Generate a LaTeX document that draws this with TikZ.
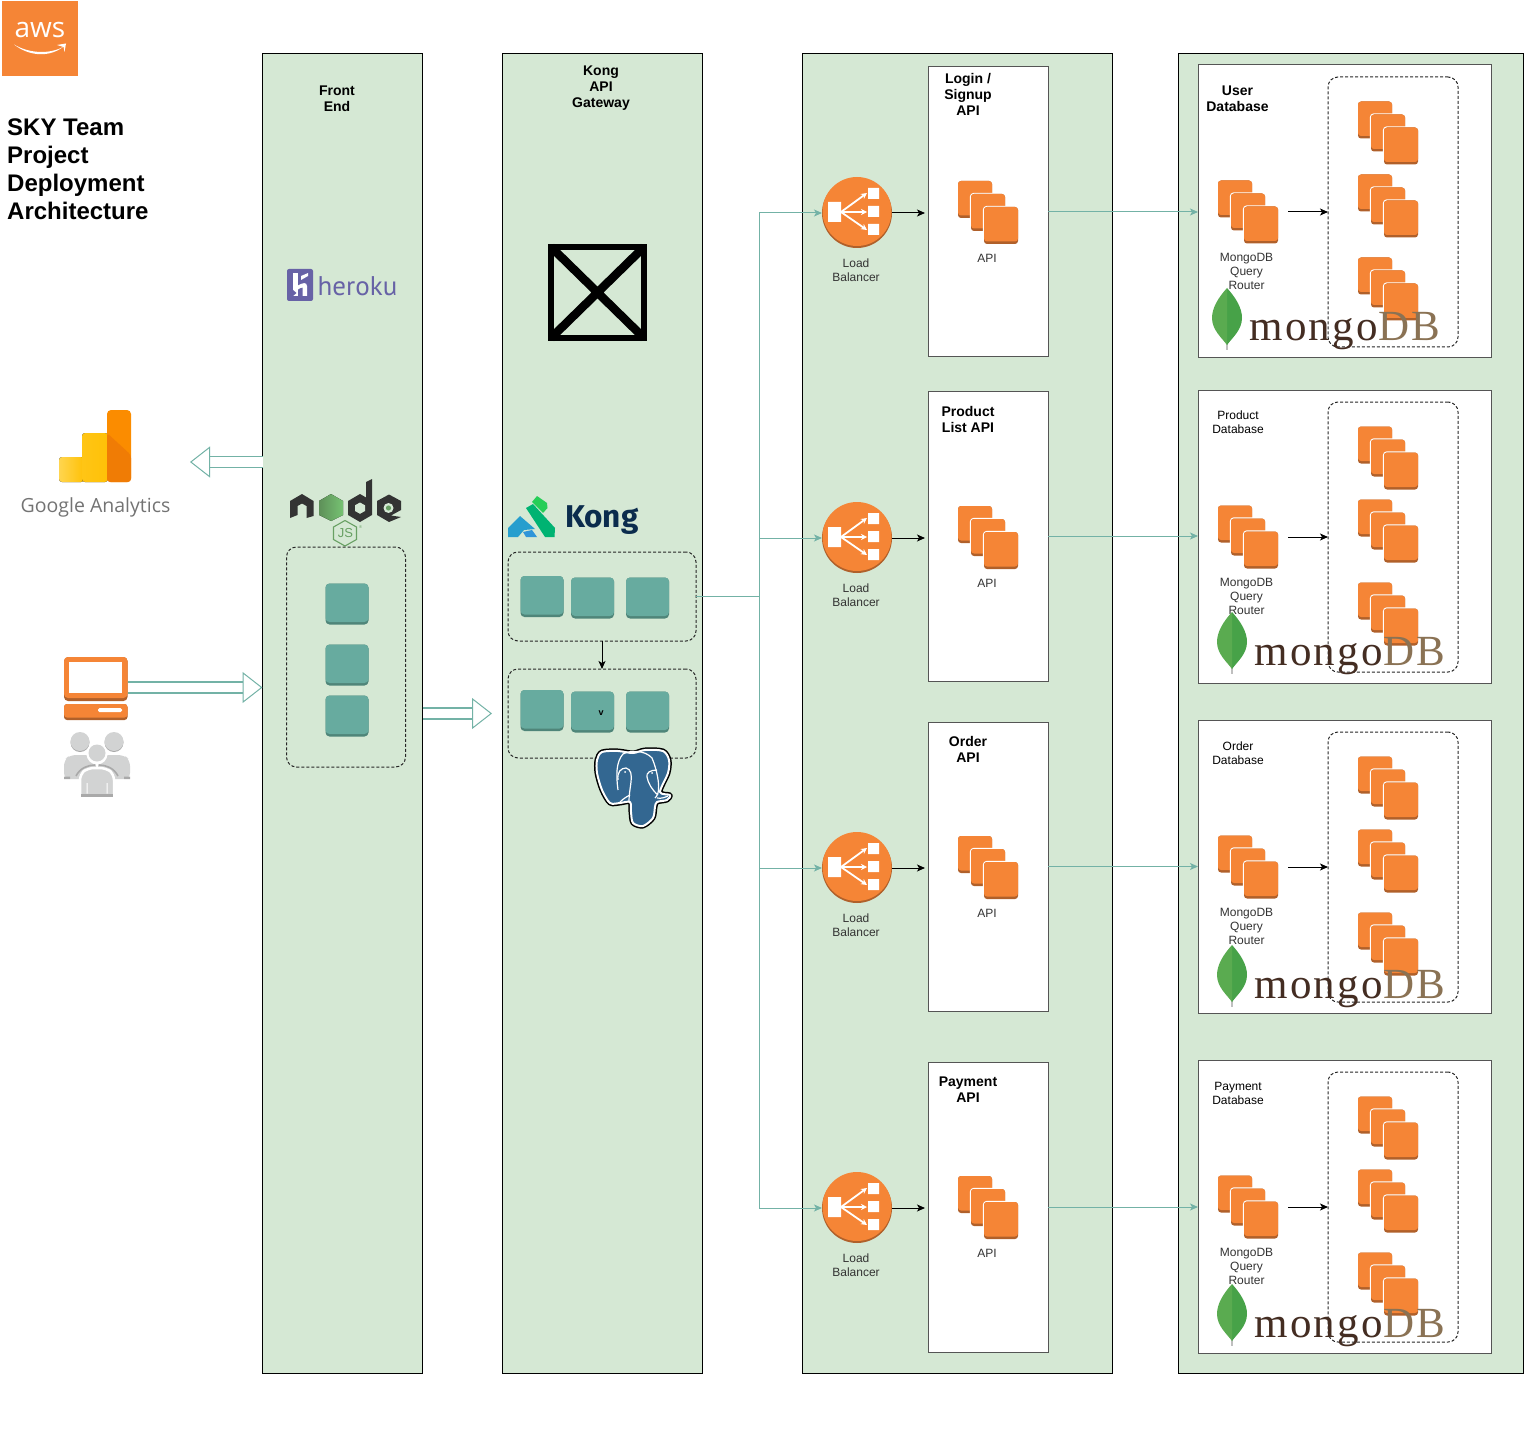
\documentclass[tikz,border=0pt]{standalone}
\usepackage{fontspec}
\setmainfont{Liberation Sans}
\newfontfamily\mongofont[LetterSpace=5.6]{Liberation Serif}
\newfontfamily\kongfont{Fira Sans}
\newfontfamily\herokufont{PT Sans}
\newfontfamily\gafont{Open Sans}
\usetikzlibrary{arrows.meta,calc}
\definecolor{panelgreen}{HTML}{D5E8D4}
\definecolor{awsorange}{HTML}{F58536}
\definecolor{awsdark}{HTML}{B0602A}
\definecolor{tealbox}{HTML}{67AB9F}
\definecolor{tealdark}{HTML}{4F8579}
\definecolor{tealline}{HTML}{73B2A6}
\definecolor{boxgrey}{HTML}{555555}
\definecolor{labelgrey}{HTML}{333333}
\definecolor{herokup}{HTML}{6762A6}
\definecolor{mongodark}{HTML}{442D22}
\definecolor{mongolight}{HTML}{8A7254}
\definecolor{kongnavy}{HTML}{0B2C4D}
\definecolor{pgblue}{HTML}{336791}
\definecolor{usergrey}{HTML}{D2D3D3}
\definecolor{userdark}{HTML}{A9A9A9}
\definecolor{nodedark}{HTML}{333333}
\definecolor{nodegreen}{HTML}{68A063}
\definecolor{gaA}{HTML}{FFD54F}
\definecolor{gaB}{HTML}{FFC107}
\definecolor{gaC}{HTML}{FB8C00}
\definecolor{gaD}{HTML}{F07C05}
\definecolor{leafL}{HTML}{5AAB50}
\definecolor{leafR}{HTML}{47A248}
\tikzset{
  panel/.style={draw=black,line width=1pt,fill=panelgreen,outer sep=0pt},
  apibox/.style={draw=boxgrey,line width=1pt,fill=white,outer sep=0pt},
  dashbox/.style={draw=black!85,line width=1pt,dash pattern=on 3pt off 2pt,rounded corners=10pt},
  iconbox/.style={inner sep=0pt,outer sep=0pt,draw=none,fill=none,rectangle},
  tline/.style={draw=tealline,line width=1pt},
  tarrow/.style={tline,-{Stealth[length=8pt,width=7pt,inset=2pt]}},
  barrow/.style={draw=black,line width=1pt,-{Stealth[length=8pt,width=7pt,inset=2pt]}},
  hollow/.style={draw=tealline,line width=1.2pt,double=white,double distance=9.8pt,
    -{Triangle[length=20pt,width=31pt,fill=white,line width=1pt]}},
  lbl/.style={inner sep=0pt,align=center,text=labelgrey,font=\fontsize{12}{14}\selectfont},
  ttl/.style={inner sep=0pt,align=center,text=black,font=\bfseries\fontsize{14}{16}\selectfont},
}
\newcommand\stackicon[3]{%
  \node[iconbox,minimum width=60pt,minimum height=63pt] (#1) at (#2+30,#3+31.5) {};
  \begin{scope}[shift={(#2,#3)}]
    \foreach \d in {0,13,26}{
      \fill[white,rounded corners=4pt] (\d-1.2,\d-1.2) rectangle (\d+34,\d+37);
      \fill[awsdark,rounded corners=3pt] (\d,\d) rectangle (\d+34,\d+37);
      \fill[awsorange,rounded corners=3pt] (\d,\d) rectangle (\d+34,\d+34.5);
    }
  \end{scope}}
\newcommand\lbicon[3]{%
  \node[iconbox,minimum width=70pt,minimum height=70pt] (#1) at (#2+35,#3+36) {};
  \begin{scope}[shift={(#2,#3)}]
    \fill[awsdark] (35,36) circle[radius=35];
    \fill[awsorange] (35,34.5) circle[radius=34.5];
    \fill[white] (6,25) rectangle (19,45) (46,11) rectangle (57,22) (46,29) rectangle (57,40) (46,47) rectangle (57,58);
    \draw[white,line width=1.8pt,-{Stealth[length=6pt,width=6pt]}] (19,35) -- (45,16);
    \draw[white,line width=1.8pt,-{Stealth[length=6pt,width=6pt]}] (19,35) -- (45,35);
    \draw[white,line width=1.8pt,-{Stealth[length=6pt,width=6pt]}] (19,35) -- (45,53);
  \end{scope}}
\newcommand\tealsq[3]{%
  \node[iconbox,minimum width=43pt,minimum height=41pt] (#1) at (#2+21.5,#3+20.5) {};
  \fill[tealdark,rounded corners=4pt] (#2,#3) rectangle (#2+43,#3+41);
  \fill[tealbox,rounded corners=4pt] (#2,#3) rectangle (#2+43,#3+38.5);}
\newcommand\mongologo[4]{% name, leaf x, leaf y, baseline y
  \begin{scope}[shift={(#2,#3)}]
    \fill[black!25] (14.3,52) rectangle (15.7,62);
    \fill[leafR] (15,0) .. controls (24,10) and (30,20) .. (30,30) .. controls (30,42) and (20,50) .. (15,57) -- cycle;
    \fill[leafL] (15,0) .. controls (6,10) and (0,20) .. (0,30) .. controls (0,42) and (10,50) .. (15,57) -- cycle;
  \end{scope}
  \node[inner sep=0pt,anchor=base west,font=\mongofont\fontsize{43}{43}\selectfont] (#1) at (#2+37,#4)
    {\textcolor{mongodark}{mongo}\textcolor{mongolight}{DB}};}
\newcommand\pgoutline{(597,760) (602,752) (618,751) (633,753) (645,750) (663,751) (669,760) (668,773) (660,792) (670,795) (667,800) (657,802) (655,807) (653,818) (643,826) (633,823) (631,812) (630,802) (620,803) (610,803) (602,790) (597,773)}
\begin{document}
\begin{tikzpicture}[x=1pt,y=-1pt]
\useasboundingbox (0,0) rectangle (1524,1431);
% panels
\node[panel,anchor=north west,minimum width=160pt,minimum height=1320pt,inner sep=0pt] (front) at (262.5,53.5) {};
\node[panel,anchor=north west,minimum width=200pt,minimum height=1320pt,inner sep=0pt] (kong) at (502.5,53.5) {};
\node[panel,anchor=north west,minimum width=310pt,minimum height=1320pt,inner sep=0pt] (svc) at (802.5,53.5) {};
\node[panel,anchor=north west,minimum width=345pt,minimum height=1320pt,inner sep=0pt] (dbp) at (1178.5,53.5) {};
% aws logo
\node[iconbox,fill=awsorange,minimum width=75.5pt,minimum height=75pt] (aws) at (40,38.5) {};
\node[inner sep=0pt,text=white,font=\gafont\fontsize{28}{28}\selectfont] (awst) at (40,30) {aws};
\fill[white] (14,44.5) .. controls (30,57) and (50,57) .. (63,47) .. controls (50,54) and (30,54) .. (14,44.5) -- cycle;
\fill[white] (57,45) -- (66,43.5) -- (64.5,52) -- (63.5,47) -- cycle;
% title
\node[inner sep=0pt,align=left,anchor=west,text=black,font=\bfseries\fontsize{24}{28}\selectfont] (title) at (7,169) {SKY Team\\Project\\Deployment\\Architecture};
\node[ttl] (frontt) at (337,99) {Front\\End};
\node[ttl] (kongt) at (601,88.5) {Kong\\API\\Gateway};
% heroku
\node[iconbox,fill=herokup,rounded corners=2pt,minimum width=26pt,minimum height=32pt] (herokui) at (300,285) {};
\fill[white] (293,273) rectangle (298,296);
\fill[white] (298,285.5) .. controls (302,283) and (307,281.5) .. (307,286) -- (307,296) -- (302.5,296) -- (302.5,287.5) .. controls (301,287.5) and (299,288.5) .. (298,289.5) -- cycle;
\fill[white] (301,276) -- (308,273) -- (308,276) -- (301,280) -- cycle;
\fill[herokup] (293,290) -- (296.5,293) -- (293,296) -- cycle;
\node[inner sep=0pt,anchor=base west,text=herokup,font=\herokufont\fontsize{27}{27}\selectfont] (herokut) at (317.5,296) {heroku};
% x image
\node[iconbox,draw=black,line width=6pt,minimum width=93pt,minimum height=91pt] (ximg) at (597.5,292.5) {};
\draw[black,line width=8.5pt] (ximg.north west) -- (ximg.south east) (ximg.north east) -- (ximg.south west);
% google analytics
\coordinate (gaL) at (190,462);
\fill[left color=gaA,right color=gaB,rounded corners=3pt] (59,482) -- (59,457) -- (84,457) -- (84,482) -- cycle;
\fill[left color=gaB!80!gaA,right color=gaB,rounded corners=3pt] (82,482) -- (82,433) -- (108,433) -- (108,482) -- cycle;
\fill[gaC,rounded corners=4pt] (107,482) -- (107,410) -- (131,410) -- (131,482) -- cycle;
\fill[gaD,rounded corners=3pt] (107,433) -- (131,455) -- (131,482) -- (107,482) -- cycle;
\node[inner sep=0pt,text=black!55,font=\gafont\fontsize{19.5}{20}\selectfont] (gat) at (95.5,507) {Google Analytics};
\draw[hollow] (front.west |- gaL) -- (gaL);
% computer
\node[iconbox,minimum width=63pt,minimum height=63pt] (pc) at (95.5,688.5) {};
\fill[awsdark,rounded corners=4pt] (64,657) rectangle (127.5,701);
\fill[awsorange,rounded corners=4pt] (64,657) rectangle (127.5,698);
\fill[white] (69,662) rectangle (122,693);
\fill[awsdark,rounded corners=3pt] (64,704) rectangle (127.5,720);
\fill[awsorange,rounded corners=3pt] (64,704) rectangle (127.5,717.5);
\fill[white,rounded corners=1.5pt] (98,708) rectangle (122,712);
\coordinate (pcout) at (128,687.5);
\draw[hollow] (pcout) -- (front.west |- pcout);
% users
\node[iconbox,minimum width=66pt,minimum height=64pt] (users) at (97,764) {};
\fill[userdark] (80,742.5) circle[radius=9.5] (114,742.5) circle[radius=9.5];
\fill[usergrey] (80,741.5) circle[radius=9.5] (114,741.5) circle[radius=9.5];
\fill[usergrey,rounded corners=6pt] (64,779) -- (64,760) -- (70,755) -- (90,755) -- (96,760) -- (96,779) -- cycle;
\fill[usergrey,rounded corners=6pt] (98,779) -- (98,760) -- (104,755) -- (124,755) -- (130,760) -- (130,779) -- cycle;
\fill[userdark] (64,776.5) rectangle (70,779) (124,776.5) rectangle (130,779);
\fill[white] (97,754) circle[radius=10.5];
\draw[userdark,line width=1.6pt] (76,776) .. controls (80,768) and (88,765) .. (95,765);
\draw[userdark,line width=1.6pt] (118,776) .. controls (114,768) and (106,765) .. (99,765);
\draw[white,line width=2.5pt,fill=usergrey,rounded corners=6pt] (80,798) -- (80,774) -- (88,768) -- (106,768) -- (114,774) -- (114,798);
\fill[white] (75,796.5) rectangle (120,800);
\fill[userdark] (81,793.5) rectangle (113,796.5);
\fill[usergrey] (97,753) circle[radius=8.5];
\fill[white] (86.5,783) rectangle (87.5,793.5) (106.5,783) rectangle (107.5,793.5);
% node logo
\fill[nodedark] (302,494) -- (313.5,501) -- (313.5,516) -- (306.5,518) -- (306.5,506) -- (302,503.5) -- (297.5,506) -- (297.5,515) -- (290,518) -- (290,501) -- cycle;
\fill[left color=nodegreen!90!black,right color=nodegreen!80!green!80!white] (331,494) -- (343,501) -- (343,515) -- (331,521) -- (319,515) -- (319,501) -- cycle;
\fill[nodedark] (372,479) -- (372,515) -- (360,522) -- (348,515) -- (348,501) -- (360,494) -- (366,497.5) -- (366,482) -- cycle;
\fill[panelgreen] (360,502.5) -- (365,505.3) -- (365,511) -- (360,513.8) -- (355,511) -- (355,505.3) -- cycle;
\fill[nodedark] (389,494.5) -- (401,501) -- (401,510) -- (391,515.5) -- (401,517) -- (389,522) -- (377,515) -- (377,501) -- cycle;
\fill[panelgreen] (388.5,508) circle[radius=5];
\fill[nodegreen] (388.5,508) circle[radius=2.6];
\node[iconbox,minimum width=24pt,minimum height=26pt] (js) at (345,533) {};
\draw[nodegreen,line width=1.1pt] (345,520.5) -- (356.5,527) -- (356.5,539.5) -- (345,546) -- (333.5,539.5) -- (333.5,527) -- cycle;
\node[inner sep=0pt,text=nodegreen,font=\fontsize{13}{13}\selectfont] (jst) at (345.5,533.5) {JS};
\node[inner sep=0pt,text=nodegreen,font=\fontsize{4}{4}\selectfont] (jsr) at (360.5,527) {®};
% front dashed
\node[iconbox,dashbox,minimum width=119pt,minimum height=220pt] (fd) at (346,657) {};
\tealsq{f1}{325.5}{583.5}
\tealsq{f2}{325.5}{644.5}
\tealsq{f3}{325.5}{695.5}
% arrow front to kong
\coordinate (kin) at (492,713.5);
\draw[hollow] (front.east |- kin) -- (kin);
% kong logo
\fill[green!55!teal!85!white] (532,502) -- (537,496) -- (547,503) -- (547.5,508) -- (543,513) -- cycle;
\fill[teal!70!green!85!cyan] (526,508) -- (533,504) -- (555,528) -- (554.5,537) -- (545,537) -- cycle;
\fill[cyan!65!teal] (508,528) -- (520,516) -- (535,529) -- (524,530) -- (518,537) -- (508,537) -- cycle;
\fill[cyan!70!blue!85!white] (523,532) -- (532,530) -- (537,537) -- (526,537) -- cycle;
\node[inner sep=0pt,anchor=base west,text=kongnavy,font=\kongfont\bfseries\fontsize{31.5}{31.5}\selectfont] (kongl) at (565,527) {Kong};
% kong dashed
\node[iconbox,dashbox,minimum width=188pt,minimum height=89pt] (k1) at (602,596.5) {};
\node[iconbox,dashbox,minimum width=188pt,minimum height=89pt] (k2) at (602,713.5) {};
\tealsq{ka}{520.5}{576}
\tealsq{kb}{571}{577.5}
\tealsq{kc}{626}{577.5}
\tealsq{kd}{520.5}{690}
\tealsq{ke}{571}{691.5}
\tealsq{kf}{626}{691.5}
\node[inner sep=0pt,text=black,font=\bfseries\fontsize{9}{9}\selectfont] (kv) at (601,713) {v};
\draw[barrow] (k1.south) -- (k2.north);
% elephant
\draw[black,line width=5pt,line join=round] plot[smooth cycle,tension=.5] coordinates {\pgoutline};
\draw[white,line width=2pt,fill=pgblue,line join=round] plot[smooth cycle,tension=.5] coordinates {\pgoutline};
\draw[white,line width=1.2pt] (618,790) .. controls (616,775) and (616,762) .. (623,754) .. controls (630,750) and (645,750) .. (652,758) .. controls (657,770) and (660,785) .. (658,793) .. controls (657,796) and (656,797) .. (655,798);
\draw[white,line width=1.2pt] (618,780) .. controls (617,772) and (621,768) .. (626,768) .. controls (631,769) and (632,775) .. (631,782) .. controls (630,790) and (629,795) .. (629,801);
\draw[white,line width=1.2pt] (647,777) .. controls (646,773) and (650,770) .. (657,770);
\draw[white,line width=1.2pt] (647,777) .. controls (648,783) and (652,790) .. (658,795);
\draw[white,line width=1.2pt] (620,802) .. controls (624,798) and (628,796) .. (630,795);
\draw[white,line width=1.2pt] (657,798) .. controls (661,799) and (666,797) .. (668,796);
\fill[white] (625,772) circle[radius=1] (652,773) circle[radius=1];
% trunk
\coordinate (trunk) at (759,596.5);
\draw[tline] (k1.east) -- (trunk);
% service rows
\node[apibox,anchor=north west,minimum width=120pt,minimum height=290pt,inner sep=0pt] (a1) at (928,67) {};
\node[apibox,anchor=north west,minimum width=120pt,minimum height=290pt,inner sep=0pt] (a2) at (928,391) {};
\node[apibox,anchor=north west,minimum width=120pt,minimum height=289pt,inner sep=0pt] (a3) at (928,722) {};
\node[apibox,anchor=north west,minimum width=120pt,minimum height=290pt,inner sep=0pt] (a4) at (928,1062) {};
\node[ttl] (a1t) at (968,94) {Login /\\Signup\\API};
\node[ttl] (a2t) at (968,419) {Product\\List API};
\node[ttl] (a3t) at (968,749) {Order\\API};
\node[ttl] (a4t) at (968,1090) {Payment\\API};
\lbicon{lb1}{822}{177}
\lbicon{lb2}{822}{502}
\lbicon{lb3}{822}{832}
\lbicon{lb4}{822}{1172}
\node[lbl] (lb1t) at (856,270) {Load\\Balancer};
\node[lbl] (lb2t) at (856,595) {Load\\Balancer};
\node[lbl] (lb3t) at (856,925) {Load\\Balancer};
\node[lbl] (lb4t) at (856,1265) {Load\\Balancer};
\stackicon{s1}{958}{181}
\stackicon{s2}{958}{506}
\stackicon{s3}{958}{836}
\stackicon{s4}{958}{1176}
\node[lbl] (s1t) at (987,258) {API};
\node[lbl] (s2t) at (987,583) {API};
\node[lbl] (s3t) at (987,913) {API};
\node[lbl] (s4t) at (987,1253) {API};
% db boxes
\node[apibox,anchor=north west,minimum width=293pt,minimum height=293pt,inner sep=0pt] (d1) at (1198,65) {};
\node[apibox,anchor=north west,minimum width=293pt,minimum height=293pt,inner sep=0pt] (d2) at (1198,390) {};
\node[apibox,anchor=north west,minimum width=293pt,minimum height=293pt,inner sep=0pt] (d3) at (1198,720) {};
\node[apibox,anchor=north west,minimum width=293pt,minimum height=293pt,inner sep=0pt] (d4) at (1198,1060) {};
\node[iconbox,dashbox,minimum width=130pt,minimum height=270pt] (h1) at (1393,212) {};
\node[iconbox,dashbox,minimum width=130pt,minimum height=270pt] (h2) at (1393,537) {};
\node[iconbox,dashbox,minimum width=130pt,minimum height=270pt] (h3) at (1393,867) {};
\node[iconbox,dashbox,minimum width=130pt,minimum height=270pt] (h4) at (1393,1207) {};
\node[ttl] (d1t) at (1237.5,99) {User\\Database};
\node[lbl,text=black] (d2t) at (1238,422) {Product\\Database};
\node[lbl,text=black] (d3t) at (1238,753) {Order\\Database};
\node[lbl,text=black] (d4t) at (1238,1093) {Payment\\Database};
\stackicon{r1}{1218}{180.5}
\stackicon{r2}{1218}{505.5}
\stackicon{r3}{1218}{835.5}
\stackicon{r4}{1218}{1175.5}
\node[lbl] (r1t) at (1246.5,271) {MongoDB\\Query\\Router};
\node[lbl] (r2t) at (1246.5,596) {MongoDB\\Query\\Router};
\node[lbl] (r3t) at (1246.5,926) {MongoDB\\Query\\Router};
\node[lbl] (r4t) at (1246.5,1266) {MongoDB\\Query\\Router};
\stackicon{p1}{1358}{101.5}
\stackicon{q1}{1358}{174.5}
\stackicon{t1}{1358}{257.5}
\stackicon{p2}{1358}{426.5}
\stackicon{q2}{1358}{499.5}
\stackicon{t2}{1358}{582.5}
\stackicon{p3}{1358}{756.5}
\stackicon{q3}{1358}{829.5}
\stackicon{t3}{1358}{912.5}
\stackicon{p4}{1358}{1096.5}
\stackicon{q4}{1358}{1169.5}
\stackicon{t4}{1358}{1252.5}
\mongologo{m1}{1212}{288}{341}
\mongologo{m2}{1217}{612}{665.5}
\mongologo{m3}{1217}{945}{998.5}
\mongologo{m4}{1217}{1284}{1337.5}
% connectors
\draw[tline] (trunk |- lb1.west) -- (trunk |- lb4.west);
\foreach \n in {1,2,3,4}{
  \draw[tarrow] (trunk |- lb\n.west) -- (lb\n.west);
  \draw[barrow,shorten >=3pt] (lb\n.east) -- (lb\n.east -| a\n.west);
  \draw[tarrow] (a\n.east) -- (a\n.east -| d\n.west);
  \draw[barrow,shorten <=10pt] (r\n.east) -- (r\n.east -| h\n.west);
}
\end{tikzpicture}
\end{document}
